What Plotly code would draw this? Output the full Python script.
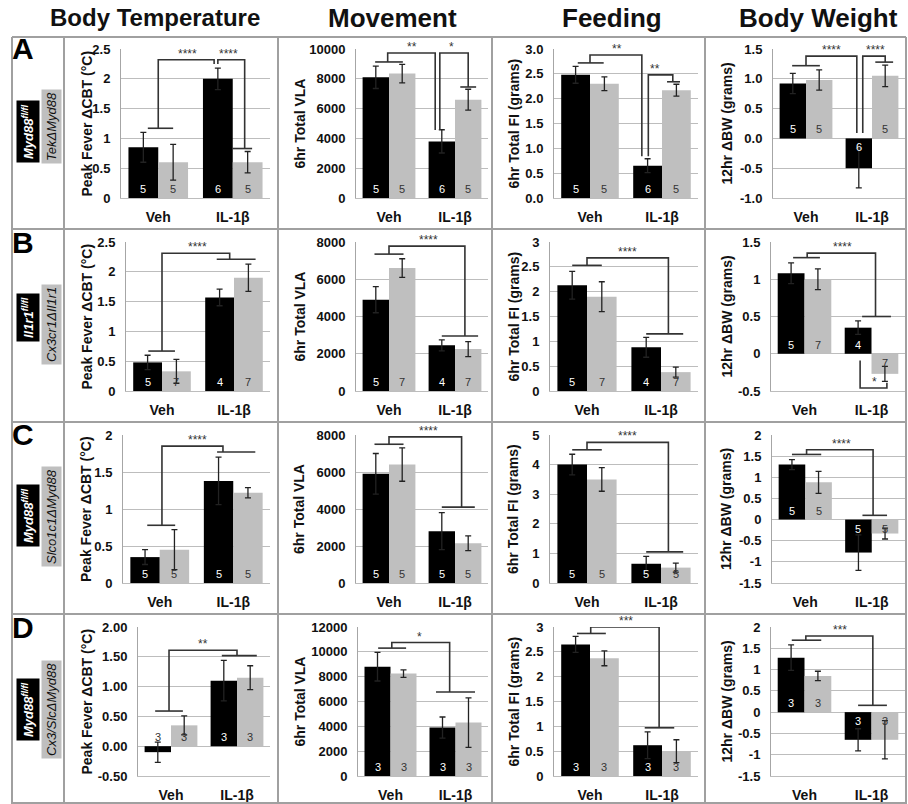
import plotly.graph_objects as go

# ---------------- DATA ----------------
categories = ["Veh", "IL-1β"]
row_letters = ["A", "B", "C", "D"]
headers = ["Body Temperature", "Movement", "Feeding", "Body Weight"]
geno_fl = ["Myd88<sup>fl/fl</sup>", "Il1r1<sup>fl/fl</sup>", "Myd88<sup>fl/fl</sup>", "Myd88<sup>fl/fl</sup>"]
geno_ko = ["TekΔMyd88", "Cx3cr1ΔIl1r1", "Slco1c1ΔMyd88", "Cx3/SlcΔMyd88"]

# n per row: [Veh, IL-1β]
n_fl = [[5, 6], [5, 4], [5, 5], [3, 3]]
n_ko = [[5, 5], [7, 7], [5, 5], [3, 3]]

# Body temperature (Peak Fever ΔCBT, °C)
temp_fl = [[0.85, 2.00], [0.48, 1.57], [0.35, 1.38], [-0.10, 1.10]]
temp_fl_err = [[0.25, 0.18], [0.12, 0.14], [0.10, 0.32], [0.17, 0.34]]
temp_ko = [[0.60, 0.60], [0.33, 1.90], [0.45, 1.22], [0.35, 1.15]]
temp_ko_err = [[0.30, 0.18], [0.20, 0.23], [0.27, 0.07], [0.16, 0.20]]
temp_ranges = [[0, 2.5], [0, 2.5], [0, 2], [-0.5, 2]]
temp_dtick = [0.5, 0.5, 0.5, 0.5]
temp_dec = [None, None, None, 2]

# Movement (6hr total VLA)
vla_fl = [[8100, 3800], [4900, 2450], [5900, 2800], [8800, 3900]]
vla_fl_err = [[750, 780], [700, 300], [1100, 1000], [1150, 850]]
vla_ko = [[8350, 6600], [6600, 2250], [6400, 2150], [8250, 4300]]
vla_ko_err = [[620, 700], [500, 400], [900, 400], [300, 2000]]
vla_ranges = [[0, 10000], [0, 8000], [0, 8000], [0, 12000]]
vla_dtick = [2000, 2000, 2000, 2000]
vla_dec = [None, None, None, None]

# Feeding (6hr total FI, grams)
fi_fl = [[2.48, 0.65], [2.13, 0.88], [4.00, 0.65], [2.65, 0.62]]
fi_fl_err = [[0.17, 0.14], [0.28, 0.20], [0.35, 0.25], [0.16, 0.27]]
fi_ko = [[2.30, 2.17], [1.90, 0.38], [3.50, 0.52], [2.37, 0.50]]
fi_ko_err = [[0.14, 0.12], [0.30, 0.10], [0.40, 0.15], [0.15, 0.23]]
fi_ranges = [[0, 3], [0, 3], [0, 5], [0, 3]]
fi_dtick = [0.5, 0.5, 1, 0.5]
fi_dec = [1, None, None, None]

# Body weight (12hr ΔBW, grams)
bw_fl = [[0.92, -0.50], [1.08, 0.35], [1.30, -0.78], [1.28, -0.65]]
bw_fl_err = [[0.17, 0.33], [0.14, 0.09], [0.12, 0.42], [0.30, 0.26]]
bw_ko = [[0.98, 1.05], [1.00, -0.27], [0.88, -0.33], [0.85, -0.65]]
bw_ko_err = [[0.17, 0.18], [0.14, 0.10], [0.26, 0.13], [0.11, 0.45]]
bw_ranges = [[-1, 1.5], [-0.5, 1.5], [-1.5, 2], [-1.5, 2]]
bw_dtick = [0.5, 0.5, 0.5, 0.5]
bw_dec = [1, None, None, None]

# significance brackets (category units, value units) and star labels
temp_brackets = [
    [[(-0.14, 1.17), (0.20, 1.17)], [(0.0, 1.17), (0.0, 2.32), (0.75, 2.32), (0.75, 2.25)],
     [(0.80, 2.25), (0.80, 2.32), (1.16, 2.32), (1.16, 0.83)], [(0.99, 0.83), (1.26, 0.83)]],
    [[(-0.19, 0.67), (0.18, 0.67)], [(0.0, 0.67), (0.0, 2.31), (0.94, 2.31), (0.94, 2.21)], [(0.76, 2.21), (1.30, 2.21)]],
    [[(-0.17, 0.78), (0.21, 0.78)], [(0.03, 0.78), (0.03, 1.85), (0.86, 1.85), (0.86, 1.77)], [(0.78, 1.77), (1.30, 1.77)]],
    [[(-0.24, 0.59), (0.18, 0.59)], [(-0.03, 0.59), (-0.03, 1.61), (1.0, 1.61), (1.0, 1.52)], [(0.77, 1.52), (1.30, 1.52)]],
]
temp_stars = [[(0.39, 2.32, "****"), (0.94, 2.32, "****")], [(0.49, 2.31, "****")],
              [(0.52, 1.85, "****")], [(0.49, 1.61, "**")]]

vla_brackets = [
    [[(-0.21, 9130), (0.21, 9130)], [(-0.02, 9130), (-0.02, 9730), (0.70, 9730), (0.70, 4560)],
     [(0.77, 4560), (0.77, 9730), (1.20, 9730), (1.20, 7450)], [(1.08, 7450), (1.32, 7450)]],
    [[(-0.22, 7350), (0.22, 7350)], [(0.0, 7350), (0.0, 7780), (1.15, 7780), (1.15, 2950)], [(0.80, 2950), (1.35, 2950)]],
    [[(-0.22, 7500), (0.22, 7500)], [(0.0, 7500), (0.0, 7900), (1.10, 7900), (1.10, 4100)], [(0.80, 4100), (1.30, 4100)]],
    [[(-0.19, 10300), (0.24, 10300)], [(0.02, 10300), (0.02, 10750), (0.91, 10750), (0.91, 6770)], [(0.70, 6770), (1.30, 6770)]],
]
vla_stars = [[(0.35, 9730, "**"), (0.94, 9730, "*")], [(0.60, 7780, "****")],
             [(0.60, 7900, "****")], [(0.44, 10750, "*")]]

fi_brackets = [
    [[(-0.17, 2.72), (0.19, 2.72)], [(0.0, 2.72), (0.0, 2.88), (0.72, 2.88), (0.72, 0.84)],
     [(0.81, 0.84), (0.81, 2.48), (1.15, 2.48), (1.15, 2.34)], [(1.07, 2.34), (1.25, 2.34)]],
    [[(-0.20, 2.53), (0.20, 2.53)], [(0.0, 2.53), (0.0, 2.68), (1.10, 2.68), (1.10, 1.15)], [(0.80, 1.15), (1.30, 1.15)]],
    [[(-0.20, 4.50), (0.20, 4.50)], [(0.0, 4.50), (0.0, 4.75), (1.10, 4.75), (1.10, 1.05)], [(0.80, 1.05), (1.30, 1.05)]],
    [[(-0.18, 2.87), (0.22, 2.87)], [(0.01, 2.87), (0.01, 3.0), (0.96, 3.0), (0.96, 0.97)], [(0.76, 0.97), (1.17, 0.97)]],
]
fi_stars = [[(0.375, 2.88, "**"), (0.90, 2.48, "**")], [(0.55, 2.68, "****")],
            [(0.55, 4.75, "****")], [(0.50, 3.0, "***")]]

bw_brackets = [
    [[(-0.21, 1.22), (0.21, 1.22)], [(0.0, 1.22), (0.0, 1.38), (0.77, 1.38), (0.77, 0.09)],
     [(0.86, 0.09), (0.86, 1.38), (1.20, 1.38), (1.20, 1.28)], [(1.05, 1.28), (1.32, 1.28)]],
    [[(-0.17, 1.29), (0.23, 1.29)], [(0.04, 1.29), (0.04, 1.35), (1.06, 1.35), (1.06, 0.5)], [(0.86, 0.5), (1.29, 0.5)],
     [(0.83, -0.09), (0.83, -0.46), (1.23, -0.46), (1.23, -0.39)]],
    [[(-0.20, 1.54), (0.24, 1.54)], [(0.02, 1.54), (0.02, 1.65), (1.02, 1.65), (1.02, 0.10)], [(0.86, 0.10), (1.23, 0.10)]],
    [[(-0.19, 1.69), (0.25, 1.69)], [(0.02, 1.69), (0.02, 1.79), (1.02, 1.79), (1.02, 0.16)], [(0.80, 0.16), (1.23, 0.16)]],
]
bw_stars = [[(0.39, 1.38, "****"), (1.05, 1.38, "****")], [(0.57, 1.35, "****"), (1.04, -0.46, "*")],
            [(0.54, 1.65, "****")], [(0.53, 1.79, "***")]]

# ---------------- LAYOUT ----------------
W, H = 908, 804
FONT = "Arial, 'Liberation Sans', sans-serif"
BLACK = "#000000"
GRAY = "#bfbfbf"
GRID = "#bdbdbd"
LINE = "#333333"

col_left = [[121, 356, 554, 773], [126, 356, 550, 771], [123, 356, 550, 772], [138, 358, 554, 771]]
col_right = [270, 488, 698, 905]
row_top = [49, 242, 435, 627]
row_bot = [198, 391, 583, 776]
title_x = [86, 299, 513, 726]
header_x = [155, 392, 612, 818]
header_size = [24, 26, 26, 26]

metrics = [
    dict(fl=temp_fl, fle=temp_fl_err, ko=temp_ko, koe=temp_ko_err, br=temp_brackets, st=temp_stars,
         rng=temp_ranges, dt=temp_dtick, dec=temp_dec, title="Peak Fever ΔCBT (°C)"),
    dict(fl=vla_fl, fle=vla_fl_err, ko=vla_ko, koe=vla_ko_err, br=vla_brackets, st=vla_stars,
         rng=vla_ranges, dt=vla_dtick, dec=vla_dec, title="6hr Total VLA"),
    dict(fl=fi_fl, fle=fi_fl_err, ko=fi_ko, koe=fi_ko_err, br=fi_brackets, st=fi_stars,
         rng=fi_ranges, dt=fi_dtick, dec=fi_dec, title="6hr Total FI (grams)"),
    dict(fl=bw_fl, fle=bw_fl_err, ko=bw_ko, koe=bw_ko_err, br=bw_brackets, st=bw_stars,
         rng=bw_ranges, dt=bw_dtick, dec=bw_dec, title="12hr ΔBW (grams)"),
]


def px(x):
    return x / W


def py(y):
    return 1 - y / H


def fmt(v, dec):
    if dec is None:
        s = f"{v:g}"
    else:
        s = f"{v:.{dec}f}"
    return s


fig = go.Figure()
annotations = []
shapes = []
layout_axes = {}

BAR_OFF = 0.2  # half group width: bargap 0.2 -> each bar 0.4 wide
for r in range(4):
    for c in range(4):
        m = metrics[c]
        idx = r * 4 + c + 1
        xa = "x" if idx == 1 else f"x{idx}"
        ya = "y" if idx == 1 else f"y{idx}"
        xname = "xaxis" if idx == 1 else f"xaxis{idx}"
        yname = "yaxis" if idx == 1 else f"yaxis{idx}"
        lo, hi = m["rng"][r]
        dt = m["dt"][r]
        nt = int(round((hi - lo) / dt))
        tv = [round(lo + i * dt, 6) for i in range(nt + 1)]
        tt = [fmt(v, m["dec"][r]) for v in tv]
        left = col_left[r][c]
        right = col_right[c]
        top = row_top[r]
        bot = row_bot[r]
        layout_axes[xname] = dict(
            domain=[px(left), px(right)], range=[-0.5, 1.5], anchor=ya, automargin=False,
            tickvals=[0, 1], ticktext=categories, showgrid=False, zeroline=False,
            showline=True, linecolor=GRID, linewidth=1, ticks="",
            tickfont=dict(family=FONT, size=14, color="#111", weight=700),
            ticklabelstandoff=6, fixedrange=True)
        layout_axes[yname] = dict(
            domain=[py(bot), py(top)], range=[lo, hi], anchor=xa, automargin=False,
            tickvals=tv, ticktext=tt, showgrid=True, gridcolor=GRID, gridwidth=1,
            zeroline=False, showline=True, linecolor="#a6a6a6", linewidth=1, ticks="",
            tickfont=dict(family=FONT, size=13, color="#111", weight=700),
            ticklabelstandoff=7, fixedrange=True)

        fig.add_trace(go.Bar(
            x=[0, 1], y=m["fl"][r], xaxis=xa, yaxis=ya, marker=dict(color=BLACK, line=dict(width=0)),
            error_y=dict(type="data", array=m["fle"][r], color="#222", thickness=1.3, width=3),
            offsetgroup="fl", showlegend=False, hoverinfo="skip"))
        fig.add_trace(go.Bar(
            x=[0, 1], y=m["ko"][r], xaxis=xa, yaxis=ya, marker=dict(color=GRAY, line=dict(width=0)),
            error_y=dict(type="data", array=m["koe"][r], color="#222", thickness=1.3, width=3),
            offsetgroup="ko", showlegend=False, hoverinfo="skip"))

        # brackets
        bx, by = [], []
        for poly in m["br"][r]:
            for (xx, yy) in poly:
                bx.append(xx)
                by.append(yy)
            bx.append(None)
            by.append(None)
        fig.add_trace(go.Scatter(x=bx, y=by, xaxis=xa, yaxis=ya, mode="lines",
                                 line=dict(color=LINE, width=1.6), showlegend=False, hoverinfo="skip"))
        for (sx, sy, s) in m["st"][r]:
            annotations.append(dict(x=sx, y=sy, xref=xa, yref=ya, text=s, showarrow=False,
                                    xanchor="center", yanchor="bottom", yshift=-3,
                                    font=dict(family=FONT, size=12, color="#333")))

        # n labels
        span_px = bot - top
        for gi, (vals, ns, base_col) in enumerate([(m["fl"][r], n_fl[r], "white"), (m["ko"][r], n_ko[r], "#333")]):
            for ci in range(2):
                v = vals[ci]
                xpos = ci + (-BAR_OFF if gi == 0 else BAR_OFF)
                bar_px = abs(v) / (hi - lo) * span_px
                if v < 0 and bar_px > 10:
                    yanchor, ysh, col = "top", -1, base_col
                else:
                    yanchor, ysh = "bottom", 1
                    col = base_col if v > 0 else "#333"
                annotations.append(dict(x=xpos, y=0, xref=xa, yref=ya, text=str(ns[ci]), showarrow=False,
                                        xanchor="center", yanchor=yanchor, yshift=ysh,
                                        font=dict(family=FONT, size=11, color=col)))

        # axis title
        annotations.append(dict(x=px(title_x[c]), y=py((top + bot) / 2), xref="paper", yref="paper",
                                xanchor="center", yanchor="middle",
                                text=m["title"], textangle=-90, showarrow=False,
                                font=dict(family=FONT, size=14, color="#111", weight=700)))

# headers
for c in range(4):
    annotations.append(dict(x=px(header_x[c]), y=py(18), xref="paper", yref="paper", text=headers[c],
                            xanchor="center", yanchor="middle",
                            showarrow=False, font=dict(family=FONT, size=header_size[c], color="#111", weight=700)))

# row labels
row_tops_tbl = [37, 229, 422, 614]
fl_center = [132, 318, 516, 710]
ko_center = [127, 325, 517, 710]
letter_y = [49, 242, 434, 627]
for r in range(4):
    annotations.append(dict(x=px(23), y=py(letter_y[r]), xref="paper", yref="paper", text=row_letters[r],
                            xanchor="center", yanchor="middle",
                            showarrow=False, font=dict(family=FONT, size=30, color="#000", weight=700)))
    annotations.append(dict(x=px(28), y=py(fl_center[r]), xref="paper", yref="paper",
                            xanchor="center", yanchor="middle",
                            text="<i>" + geno_fl[r] + "</i>", textangle=-90, showarrow=False,
                            bgcolor="#000", borderpad=3,
                            font=dict(family=FONT, size=13, color="white", weight=700)))
    annotations.append(dict(x=px(51), y=py(ko_center[r]), xref="paper", yref="paper",
                            xanchor="center", yanchor="middle",
                            text="<i>" + geno_ko[r] + "</i>", textangle=-90, showarrow=False,
                            bgcolor=GRAY, borderpad=2,
                            font=dict(family=FONT, size=13, color="#111")))

# table lines
TBL = "#a0a0a0"
for yy in row_tops_tbl + [803]:
    shapes.append(dict(type="line", xref="paper", yref="paper", x0=px(12), x1=px(906), y0=py(yy), y1=py(yy),
                       line=dict(color=TBL, width=2)))
for xx in [12, 64, 278, 492, 705, 906]:
    shapes.append(dict(type="line", xref="paper", yref="paper", x0=px(xx), x1=px(xx), y0=py(37), y1=py(804),
                       line=dict(color=TBL, width=2)))

fig.update_layout(
    template="none",
    width=W, height=H, margin=dict(l=0, r=0, t=0, b=0, autoexpand=False),
    paper_bgcolor="white", plot_bgcolor="white",
    barmode="group", bargap=0.2, bargroupgap=0,
    showlegend=False, annotations=annotations, shapes=shapes,
    font=dict(family=FONT),
    **layout_axes)

fig.write_html("out.html", config={"displayModeBar": False},
               post_script="document.body.style.margin='0';document.body.style.overflow='hidden';")
